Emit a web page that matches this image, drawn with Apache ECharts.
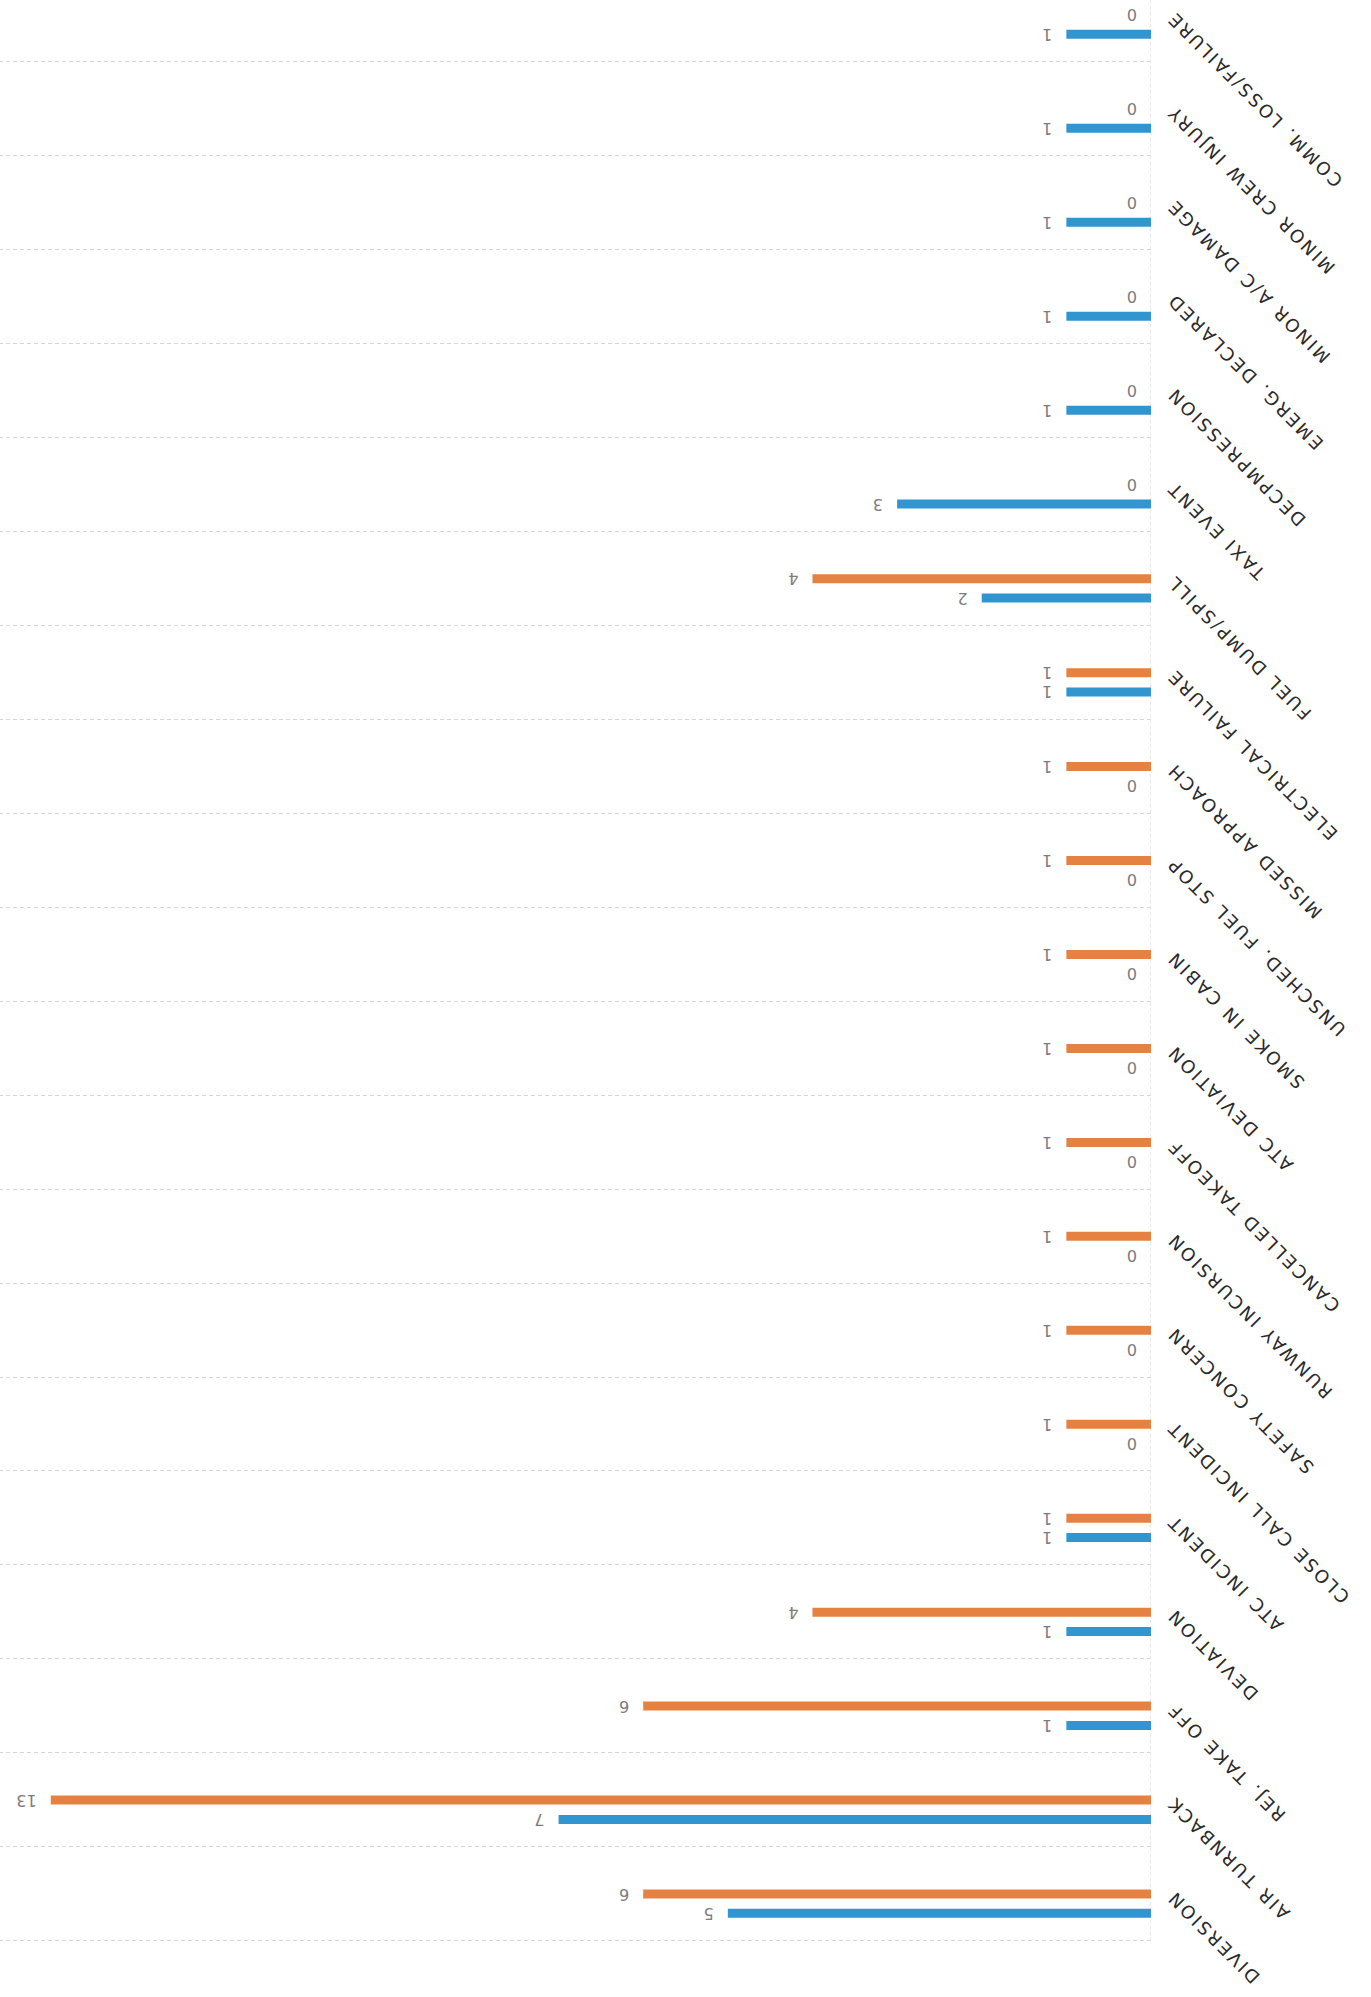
<!DOCTYPE html>
<html><head><meta charset="utf-8">
<script src="https://cdn.jsdelivr.net/npm/echarts@6/dist/echarts.min.js"></script>
<style>
html,body{margin:0;padding:0;background:#fff;overflow:hidden;}
#wrap{position:relative;width:1371px;height:1997px;overflow:hidden;transform:rotate(180deg);transform-origin:50% 50%;background:#fff;}
#chart{position:absolute;left:0;top:0;width:1371px;height:2060px;}
#chart svg text[style*="sans-serif"], #chart svg text[font-family*="sans-serif"]{letter-spacing:2.5px;}
</style></head><body>
<div id="wrap"><div id="chart"></div></div>
<script>
const categories = ['DIVERSION','AIR TURNBACK','REJ. TAKE OFF','DEVIATION','ATC INCIDENT','CLOSE CALL INCIDENT','SAFETY CONCERN','RUNWAY INCURSION','CANCELLED TAKEOFF','ATC DEVIATION','SMOKE IN CABIN','UNSCHED. FUEL STOP','MISSED APPROACH','ELECTRICAL FAILURE','FUEL DUMP/SPILL','TAXI EVENT','DECPMPRESSION','EMERG. DECLARED','MINOR A/C DAMAGE','MINOR CREW INJURY','COMM. LOSS/FAILURE'];
const orangeValues = [6,13,6,4,1,1,1,1,1,1,1,1,1,1,4,0,0,0,0,0,0];
const blueValues   = [5,7,1,1,1,0,0,0,0,0,0,0,0,1,2,3,1,1,1,1,1];
const spacerValues = [];

const chart = echarts.init(document.getElementById('chart'), null, {renderer:'svg', width:1371, height:2060});
const valueLabel = {show:true, position:'right', distance:14, fontSize:16, lineHeight:16, color:'#7c7c7c', fontFamily:'DejaVu Sans'};
chart.setOption({
  animation:false,
  backgroundColor:'#fff',
  grid:{left:220, top:56, width:1151, height:1973, containLabel:false},
  xAxis:{type:'value', min:0, max:13.6, axisLine:{show:false}, axisTick:{show:false}, axisLabel:{show:false}, splitLine:{show:false}},
  yAxis:{type:'category', data:categories, inverse:true,
    axisLine:{show:true, lineStyle:{color:'#e8e8e8', type:[3,3]}},
    axisTick:{show:false},
    splitLine:{show:true, interval:0, lineStyle:{color:'#d6d6d6', type:[4,3]}},
    axisLabel:{interval:0, rotate:-45, margin:19, fontSize:18, color:'#2a2a2a', fontFamily:'DejaVu Sans, sans-serif'}},
  series:[
    {type:'bar', name:'blue', data:blueValues, barWidth:9, barGap:'115%', itemStyle:{color:'#3195cf'}, label:valueLabel},
    {type:'bar', name:'orange', data:orangeValues, barWidth:9, barGap:'115%', itemStyle:{color:'#e58241'}, label:valueLabel},
    {type:'bar', name:'spacer', data:spacerValues, barWidth:9, barGap:'115%'}
  ]
});
</script>
</body></html>
